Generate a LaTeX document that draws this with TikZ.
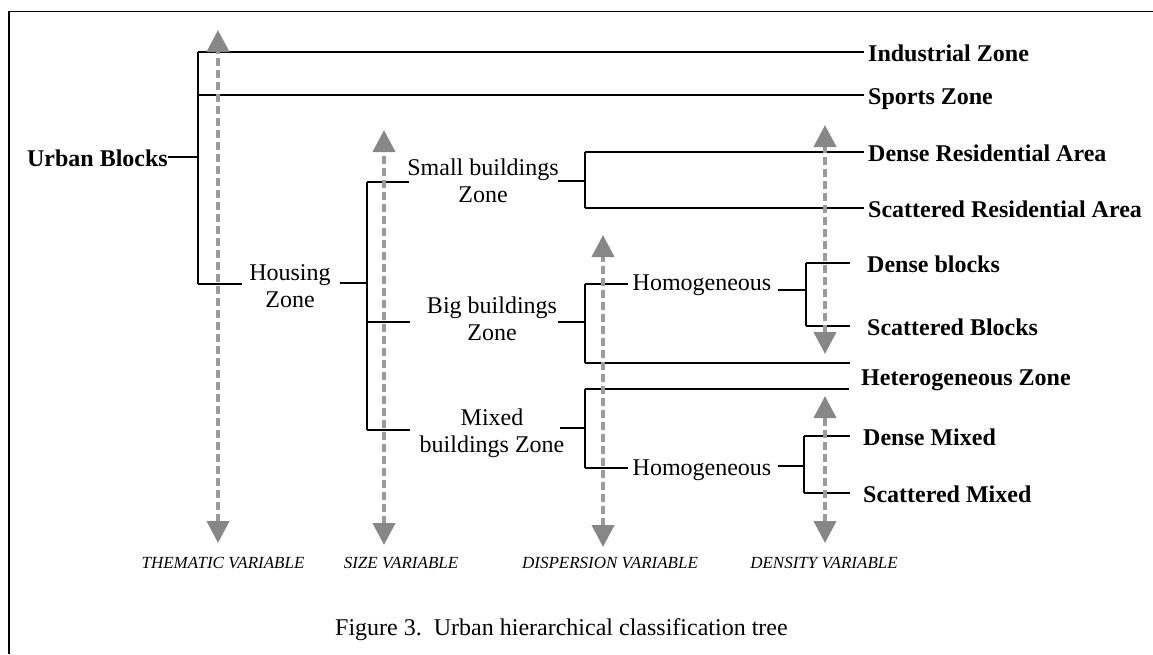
\documentclass[tikz,border=0pt]{standalone}
\usepackage{fontspec}
\setmainfont{Liberation Serif}
\usetikzlibrary{arrows.meta}
\definecolor{arrline}{RGB}{155,155,155}
\definecolor{arrhead}{RGB}{135,135,135}
\tikzset{
  tree/.style={line width=1.3pt, black},
  leaf/.style={font=\fontsize{24}{27}\selectfont\bfseries, inner sep=0pt, text height=18pt, text depth=0pt, anchor=west},
  inner/.style={font=\fontsize{24}{27}\selectfont, inner sep=0pt, align=center},
  hom/.style={font=\fontsize{24}{27}\selectfont, inner sep=0pt, text height=18pt, text depth=0pt},
  varlbl/.style={font=\fontsize{17}{20}\selectfont\itshape, inner sep=0pt, anchor=base},
  varrow/.style={draw=arrline, line width=4pt, dash pattern=on 8pt off 4pt,
    {Triangle[width=22pt,length=22pt,color=arrhead]}-{Triangle[width=22pt,length=22pt,color=arrhead]}}
}
\begin{document}
\begin{tikzpicture}[x=1pt,y=-1pt]
\useasboundingbox (0,0) rectangle (1153,654);
% frame
\draw[line width=1.8pt] (9,654) -- (9,11.5) -- (1153,11.5);

% text nodes
\node[leaf, anchor=east] (ub) at (168,157) {Urban Blocks};
\node[inner] (hz) at (290,286.5) {Housing\\Zone};
\node[inner] (sbz) at (483,180.3) {Small buildings\\Zone};
\node[inner] (bbz) at (492,318.3) {Big buildings\\Zone};
\node[inner] (mbz) at (492,433) {Mixed\\buildings Zone};
\node[hom] (hom1) at (702,281) {Homogeneous};
\node[hom] (hom2) at (702,466) {Homogeneous};

\node[leaf] (ind) at (868,52) {Industrial Zone};
\node[leaf] (spo) at (868,95) {Sports Zone};
\node[leaf] (dra) at (868,152) {Dense Residential Area};
\node[leaf] (sra) at (868,208) {Scattered Residential Area};
\node[leaf] (db) at (867,263) {Dense blocks};
\node[leaf] (sbl) at (867,326) {Scattered Blocks};
\node[leaf] (het) at (861,376) {Heterogeneous Zone};
\node[leaf] (dm) at (863,436) {Dense Mixed};
\node[leaf] (smx) at (863,493) {Scattered Mixed};

\node[varlbl] (vth) at (223,568) {THEMATIC VARIABLE};
\node[varlbl] (vsz) at (401,568) {SIZE VARIABLE};
\node[varlbl] (vdi) at (610,568) {DISPERSION VARIABLE};
\node[varlbl] (vde) at (824,568) {DENSITY VARIABLE};

\node[font=\fontsize{24}{27}\selectfont, inner sep=0pt, anchor=base west] (cap) at (335,635) {Figure 3.\ \ Urban hierarchical classification tree};

% junction coordinates
\coordinate (u1) at (198,52);
\coordinate (u2) at (198,95);
\coordinate (u3) at (198,157);
\coordinate (u4) at (198,284);
\coordinate (hzl) at (242,284);
\coordinate (hzr) at (340,283);
\coordinate (s0) at (367,283);
\coordinate (s1) at (367,182);
\coordinate (s2) at (367,322);
\coordinate (s3) at (367,430);
\coordinate (s1e) at (409,182);
\coordinate (s2e) at (410,322);
\coordinate (s3e) at (410,430);
\coordinate (sbr) at (558,181);
\coordinate (bbr) at (558,322);
\coordinate (mbr) at (560,428);
\coordinate (p0) at (585,181);
\coordinate (p1) at (585,152);
\coordinate (p2) at (585,208);
\coordinate (q0) at (585,322);
\coordinate (q1) at (585,284);
\coordinate (q2) at (585,363);
\coordinate (q1e) at (628,284);
\coordinate (q2e) at (850,363);
\coordinate (r0) at (585,428);
\coordinate (r1) at (585,389);
\coordinate (r2) at (585,468);
\coordinate (r1e) at (849,389);
\coordinate (r2e) at (628,468);
\coordinate (h1r) at (778,290);
\coordinate (h1) at (806,290);
\coordinate (h1a) at (806,263);
\coordinate (h1b) at (806,326);
\coordinate (h2r) at (778,466);
\coordinate (h2) at (804,466);
\coordinate (h2a) at (804,436);
\coordinate (h2b) at (804,493);

% tree lines
\draw[tree] (ub.east) -- (u3);
\draw[tree] (u1) -- (u4);
\draw[tree] (u1) -- (ind.west) [shorten >=4pt];
\draw[tree, shorten >=4pt] (u2) -- (spo.west);
\draw[tree] (u4) -- (hzl);
\draw[tree] (hzr) -- (s0);
\draw[tree] (s1) -- (s3);
\draw[tree] (s1) -- (s1e);
\draw[tree] (s2) -- (s2e);
\draw[tree] (s3) -- (s3e);
\draw[tree] (sbr) -- (p0);
\draw[tree] (bbr) -- (q0);
\draw[tree] (mbr) -- (r0);
\draw[tree] (p1) -- (p2);
\draw[tree, shorten >=4pt] (p1) -- (dra.west);
\draw[tree, shorten >=4pt] (p2) -- (sra.west);
\draw[tree] (q1) -- (q2);
\draw[tree] (q1) -- (q1e);
\draw[tree] (q2) -- (q2e);
\draw[tree] (r1) -- (r2);
\draw[tree] (r1) -- (r1e);
\draw[tree] (r2) -- (r2e);
\draw[tree] (h1r) -- (h1);
\draw[tree] (h1a) -- (h1b);
\draw[tree, shorten >=17pt] (h1a) -- (db.west);
\draw[tree, shorten >=17pt] (h1b) -- (sbl.west);
\draw[tree] (h2r) -- (h2);
\draw[tree] (h2a) -- (h2b);
\draw[tree, shorten >=13pt] (h2a) -- (dm.west);
\draw[tree, shorten >=13pt] (h2b) -- (smx.west);

% variable arrows
\coordinate (t1) at (218,30);  \coordinate (t2) at (218,543);
\coordinate (z1) at (384,130); \coordinate (z2) at (384,545);
\coordinate (d1) at (603,235); \coordinate (d2) at (603,547);
\coordinate (e1) at (825,125); \coordinate (e2) at (825,354);
\coordinate (f1) at (825,396); \coordinate (f2) at (825,543);
\draw[varrow] (t2) -- (t1);
\draw[varrow] (z2) -- (z1);
\draw[varrow] (d2) -- (d1);
\draw[varrow] (e2) -- (e1);
\draw[varrow] (f2) -- (f1);
\end{tikzpicture}
\end{document}
